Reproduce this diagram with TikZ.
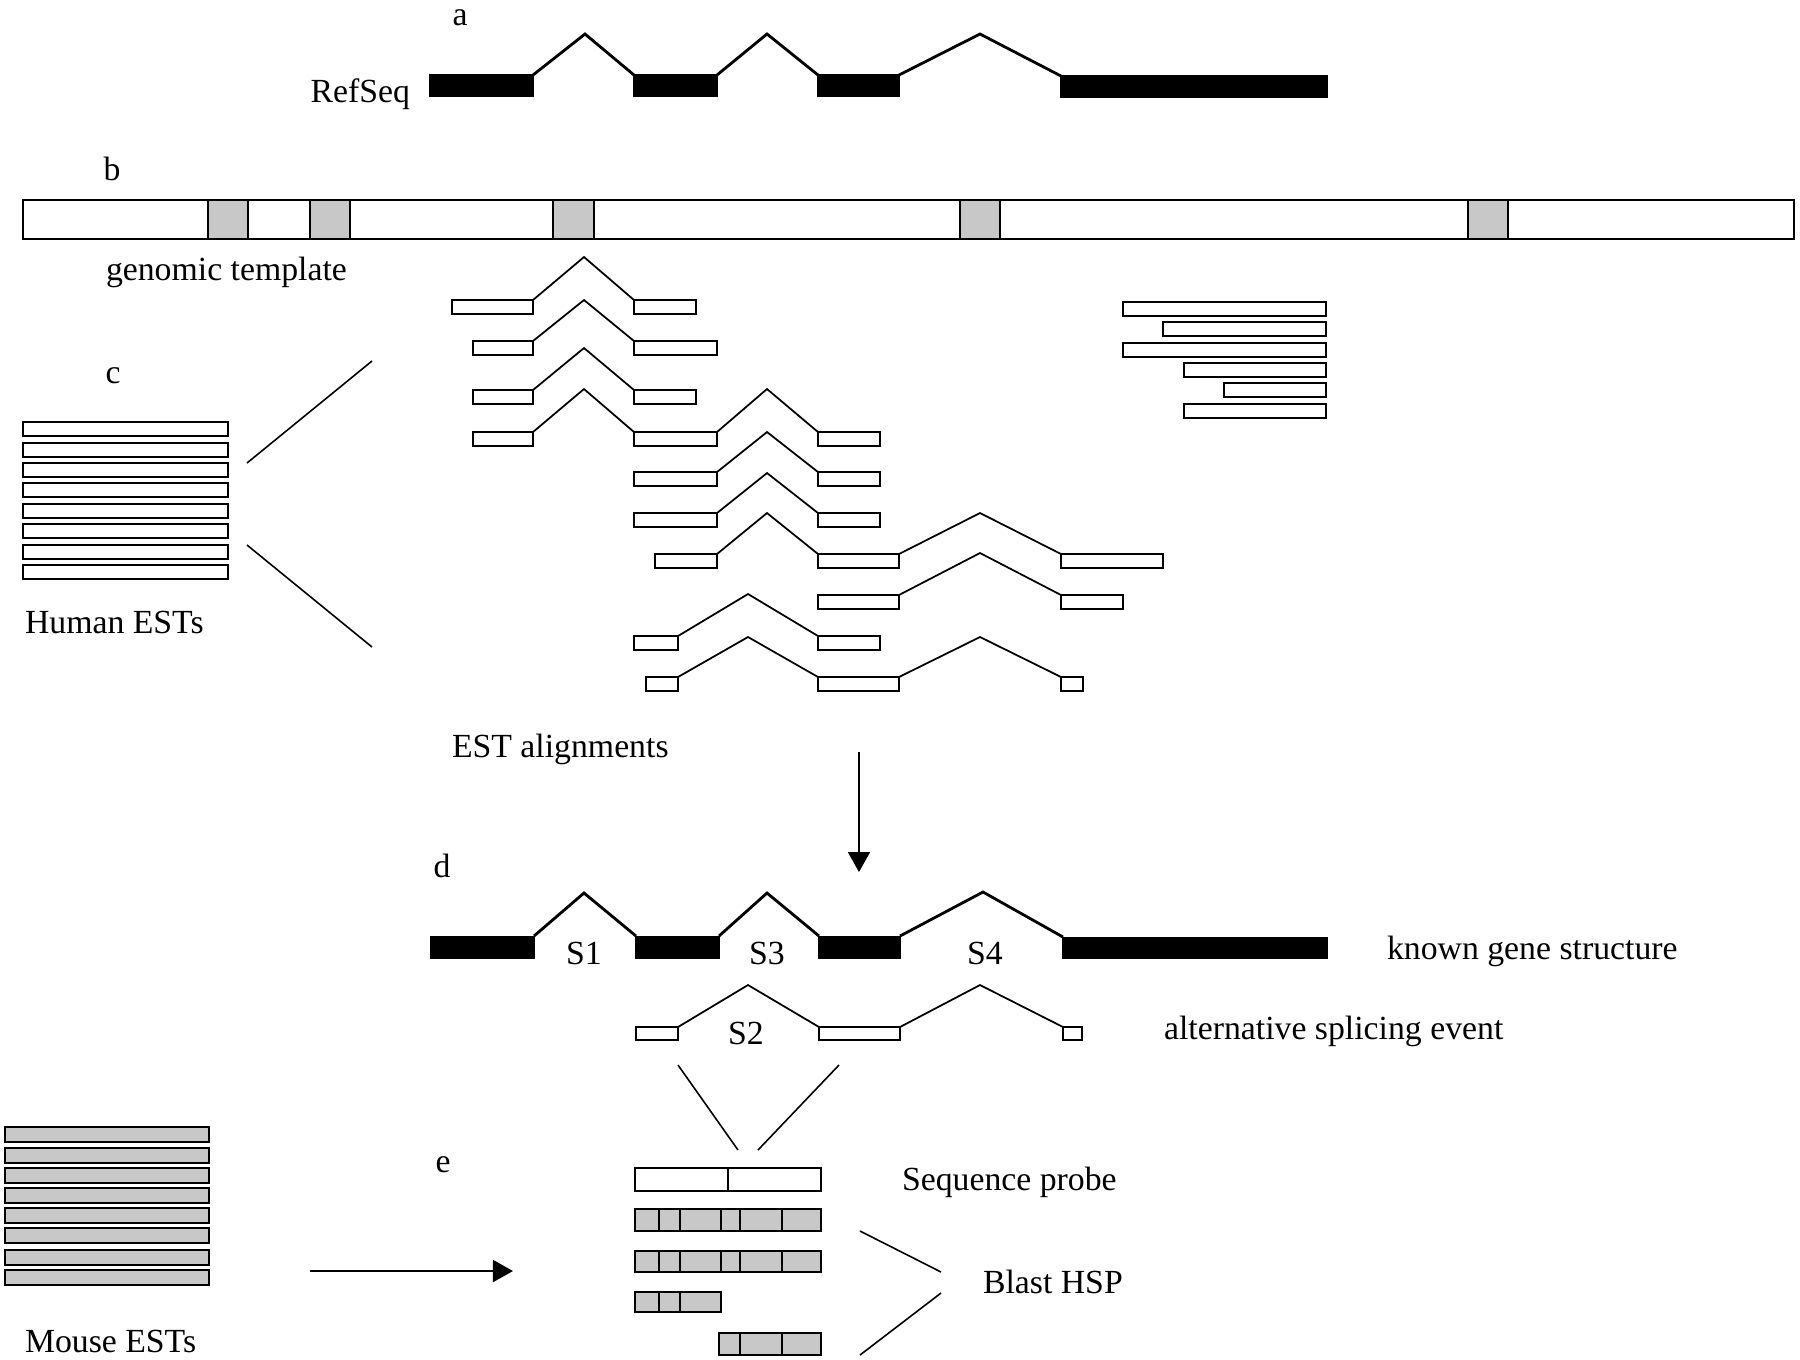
\documentclass[tikz,border=0pt]{standalone}
\usepackage{fontspec}
\setmainfont{Liberation Serif}
\usetikzlibrary{arrows.meta}
\definecolor{hspgray}{RGB}{200,200,200}
\newcommand\exbox[6]{\node[#2, minimum width={(#5-(#3))*0.01cm}, minimum height={(#6-(#4))*0.01cm}] (#1) at ({((#3)+(#5))/2},{((#4)+(#6))/2}) {};}
\tikzset{
  every node/.style={inner sep=0pt, outer sep=0pt},
  blk/.style={rectangle, fill=black, draw=black, line width=0.3pt},
  est/.style={rectangle, draw=black, fill=white, line width=0.6pt},
  genbar/.style={rectangle, draw=black, fill=white, line width=0.7pt},
  gex/.style={rectangle, draw=black, fill=hspgray, line width=0.65pt},
  hsp/.style={rectangle, draw=black, fill=hspgray, line width=0.8pt},
  probe/.style={rectangle, draw=black, fill=white, line width=0.6pt},
  refsplice/.style={line width=0.8pt, line join=miter},
  splice/.style={line width=0.5pt},
  thinline/.style={line width=0.45pt},
  flow/.style={line width=0.5pt, -{Triangle[length=0.2cm, width=0.22cm]}},
  lbl/.style={font=\fontsize{9.6}{11}\selectfont},
}
\begin{document}
\begin{tikzpicture}[x=0.01cm, y=-0.01cm]
\useasboundingbox (0,0) rectangle (1800,1359);
% ---------- a ----------
\node[lbl, anchor=base] (la) at (460,25) {a};
\node[lbl, anchor=base east] (refseq) at (410,102) {RefSeq};
\exbox{ra1}{blk}{430}{75}{533}{96}
\exbox{ra2}{blk}{634}{75}{717}{96}
\exbox{ra3}{blk}{818}{75}{899}{96}
\exbox{ra4}{blk}{1061}{76}{1327}{97}
\coordinate (pa1) at (585,34);
\coordinate (pa2) at (767,34);
\coordinate (pa3) at (980,34);
\draw[refsplice] (ra1.north east) -- (pa1) -- (ra2.north west);
\draw[refsplice] (ra2.north east) -- (pa2) -- (ra3.north west);
\draw[refsplice] (ra3.north east) -- (pa3) -- (ra4.north west);
% ---------- b ----------
\node[lbl, anchor=base] (lb) at (112,180) {b};
\exbox{gen}{genbar}{23}{200}{1794}{239}
\exbox{g1}{gex}{208}{200}{248}{239}
\exbox{g2}{gex}{310}{200}{350}{239}
\exbox{g3}{gex}{553}{200}{594}{239}
\exbox{g4}{gex}{960}{200}{1000}{239}
\exbox{g5}{gex}{1468}{200}{1508}{239}
\node[lbl, anchor=base west] (gtxt) at (106,280) {genomic template};
% ---------- c ----------
\node[lbl, anchor=base] (lc) at (113,383) {c};
\foreach \t [count=\i] in {422,443,463,483,504,524,545,565}
  {\exbox{hu\i}{est}{23}{\t}{228}{\t+14}}
\node[lbl, anchor=base west] (human) at (25,633) {Human ESTs};
\coordinate (cu1) at (247,463); \coordinate (cu2) at (372,361);
\coordinate (cl1) at (247,545); \coordinate (cl2) at (372,647);
\draw[thinline] (cu1) -- (cu2);
\draw[thinline] (cl1) -- (cl2);
% EST alignments
% row 1
\exbox{r1a}{est}{452}{300}{533}{314}
\exbox{r1b}{est}{634}{300}{696}{314}
\coordinate (q1a) at (584,257);
\draw[splice] (r1a.north east) -- (q1a) -- (r1b.north west);
% row 2
\exbox{r2a}{est}{473}{341}{533}{355}
\exbox{r2b}{est}{634}{341}{717}{355}
\coordinate (q2a) at (584,300);
\draw[splice] (r2a.north east) -- (q2a) -- (r2b.north west);
% row 3
\exbox{r3a}{est}{473}{390}{533}{404}
\exbox{r3b}{est}{634}{390}{696}{404}
\coordinate (q3a) at (584,348);
\draw[splice] (r3a.north east) -- (q3a) -- (r3b.north west);
% row 4
\exbox{r4a}{est}{473}{432}{533}{446}
\exbox{r4b}{est}{634}{432}{717}{446}
\exbox{r4c}{est}{818}{432}{880}{446}
\coordinate (q4a) at (584,389);
\coordinate (q4b) at (767,389);
\draw[splice] (r4a.north east) -- (q4a) -- (r4b.north west);
\draw[splice] (r4b.north east) -- (q4b) -- (r4c.north west);
% row 5
\exbox{r5b}{est}{634}{472}{717}{486}
\exbox{r5c}{est}{818}{472}{880}{486}
\coordinate (q5b) at (767,432);
\draw[splice] (r5b.north east) -- (q5b) -- (r5c.north west);
% row 6
\exbox{r6b}{est}{634}{513}{717}{527}
\exbox{r6c}{est}{818}{513}{880}{527}
\coordinate (q6b) at (767,473);
\draw[splice] (r6b.north east) -- (q6b) -- (r6c.north west);
% row 7
\exbox{r7b}{est}{655}{554}{717}{568}
\exbox{r7c}{est}{818}{554}{899}{568}
\exbox{r7d}{est}{1061}{554}{1163}{568}
\coordinate (q7b) at (767,513);
\coordinate (q7c) at (980,513);
\draw[splice] (r7b.north east) -- (q7b) -- (r7c.north west);
\draw[splice] (r7c.north east) -- (q7c) -- (r7d.north west);
% row 8
\exbox{r8c}{est}{818}{595}{899}{609}
\exbox{r8d}{est}{1061}{595}{1123}{609}
\coordinate (q8c) at (980,553);
\draw[splice] (r8c.north east) -- (q8c) -- (r8d.north west);
% row 9
\exbox{r9b}{est}{634}{636}{678}{650}
\exbox{r9c}{est}{818}{636}{880}{650}
\coordinate (q9b) at (748,594);
\draw[splice] (r9b.north east) -- (q9b) -- (r9c.north west);
% row 10
\exbox{r10b}{est}{646}{677}{678}{691}
\exbox{r10c}{est}{818}{677}{899}{691}
\exbox{r10d}{est}{1061}{677}{1083}{691}
\coordinate (q10b) at (748,637);
\coordinate (q10c) at (980,637);
\draw[splice] (r10b.north east) -- (q10b) -- (r10c.north west);
\draw[splice] (r10c.north east) -- (q10c) -- (r10d.north west);
% right cluster
\exbox{rc1}{est}{1123}{302}{1326}{316}
\exbox{rc2}{est}{1163}{322}{1326}{336}
\exbox{rc3}{est}{1123}{343}{1326}{357}
\exbox{rc4}{est}{1184}{363}{1326}{377}
\exbox{rc5}{est}{1224}{383}{1326}{397}
\exbox{rc6}{est}{1184}{404}{1326}{418}
\node[lbl, anchor=base west] (estal) at (452,757) {EST alignments};
\coordinate (arrtop) at (859,752);
\coordinate (arrbot) at (859,872);
\draw[flow] (arrtop) -- (arrbot);
% ---------- d ----------
\node[lbl, anchor=base] (ld) at (442,877) {d};
\exbox{da1}{blk}{431}{936}{534}{958}
\exbox{da2}{blk}{636}{936}{719}{958}
\exbox{da3}{blk}{819}{936}{900}{958}
\exbox{da4}{blk}{1063}{937}{1327}{958}
\coordinate (pd1) at (584,893);
\coordinate (pd2) at (767,893);
\coordinate (pd3) at (983,892);
\draw[refsplice] (da1.north east) -- (pd1) -- (da2.north west);
\draw[refsplice] (da2.north east) -- (pd2) -- (da3.north west);
\draw[refsplice] (da3.north east) -- (pd3) -- (da4.north west);
\node[lbl, anchor=base] (s1) at (584,964) {S1};
\node[lbl, anchor=base] (s3) at (767,964) {S3};
\node[lbl, anchor=base] (s4) at (985,964) {S4};
\node[lbl, anchor=base west] (known) at (1387,959) {known gene structure};
\exbox{al1}{est}{636}{1027}{678}{1040}
\exbox{al2}{est}{819}{1027}{900}{1040}
\exbox{al3}{est}{1063}{1027}{1082}{1040}
\coordinate (pal1) at (748,985);
\coordinate (pal2) at (980,985);
\draw[splice] (al1.north east) -- (pal1) -- (al2.north west);
\draw[splice] (al2.north east) -- (pal2) -- (al3.north west);
\node[lbl, anchor=base] (s2) at (746,1044) {S2};
\node[lbl, anchor=base west] (alt) at (1164,1039) {alternative splicing event};
% ---------- e ----------
\node[lbl, anchor=base] (le) at (443,1172) {e};
\coordinate (v1a) at (678,1065); \coordinate (v1b) at (738,1150);
\coordinate (v2a) at (839,1065); \coordinate (v2b) at (758,1150);
\draw[thinline] (v1a) -- (v1b);
\draw[thinline] (v2a) -- (v2b);
\exbox{pr1}{probe}{635}{1168}{728}{1191}
\exbox{pr2}{probe}{728}{1168}{821}{1191}
\node[lbl, anchor=base west] (seqp) at (902,1190) {Sequence probe};
\foreach \a/\b [count=\i] in {635/659,659/680,680/721,721/740,740/782,782/821}
  {\exbox{ha\i}{hsp}{\a}{1209}{\b}{1231}
   \exbox{hb\i}{hsp}{\a}{1251}{\b}{1272}}
\foreach \a/\b [count=\i] in {635/659,659/680,680/721}
  {\exbox{hc\i}{hsp}{\a}{1292}{\b}{1312}}
\foreach \a/\b [count=\i] in {719/740,740/782,782/821}
  {\exbox{hd\i}{hsp}{\a}{1333}{\b}{1355}}
\node[lbl, anchor=base west] (blast) at (983,1293) {Blast HSP};
\coordinate (w1a) at (860,1231); \coordinate (w1b) at (941,1272);
\coordinate (w2a) at (941,1293); \coordinate (w2b) at (860,1355);
\draw[thinline] (w1a) -- (w1b);
\draw[thinline] (w2a) -- (w2b);
\foreach \t [count=\i] in {1127,1148,1168,1188,1208,1228,1250,1270}
  {\exbox{mo\i}{gex}{5}{\t}{209}{\t+15}}
\node[lbl, anchor=base west] (mouse) at (25,1352) {Mouse ESTs};
\coordinate (ma) at (310,1271);
\coordinate (mb) at (513,1271);
\draw[flow] (ma) -- (mb);
\end{tikzpicture}
\end{document}
